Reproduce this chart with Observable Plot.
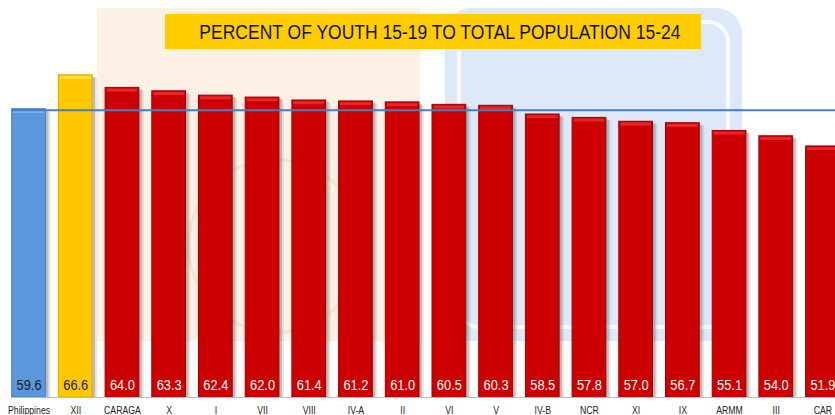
<!DOCTYPE html>
<html>
<head>
<meta charset="utf-8">
<script src="https://cdn.jsdelivr.net/npm/d3@7"></script>
<script src="https://cdn.jsdelivr.net/npm/@observablehq/plot@0.6"></script>
<style>
  body { margin: 0; background: #fff; overflow: hidden; }
  #wrap { position: relative; width: 835px; height: 415px; overflow: hidden;
          font-family: "Liberation Sans", Arial, sans-serif; }
  .bg { position: absolute; }
  #peach { left: 97px; top: 8px; width: 323px; height: 333px; background: #fdf0e4; }
  #peach .seal { position: absolute; left: 90px; top: 150px; width: 170px; height: 170px; border-radius: 50%;
                 border: 3px solid rgba(230,205,170,0.35); }
  #blue { left: 445px; top: 8px; width: 297px; height: 333px; background: #dde8f8; border-radius: 26px; }
  #blue .inner { position: absolute; left: 12px; top: 12px; right: 12px; bottom: 12px;
                 border: 4px solid rgba(255,255,255,0.75); border-radius: 22px; }
  #chart { position: absolute; left: 0; top: 0; }
  #title { position: absolute; left: 165px; top: 14px; width: 536px; height: 35px; background: #ffcc00;
           color: #111; font-size: 20px; line-height: 36px; text-align: center; white-space: nowrap; }
  #title span { display: inline-block; transform: scaleX(0.875); transform-origin: center; }
</style>
</head>
<body>
<div id="wrap">
  <div id="peach" class="bg"><div class="seal"></div></div>
  <div id="blue" class="bg"><div class="inner"></div></div>
  <div id="chart"></div>
  <div id="title"><span></span></div>
</div>
<script>
const chartTitle = "PERCENT OF YOUTH 15-19 TO TOTAL POPULATION 15-24";
const regions = ["Philippines", "XII", "CARAGA", "X", "I", "VII", "VIII", "IV-A", "II", "VI", "V", "IV-B", "NCR", "XI", "IX", "ARMM", "III", "CAR"];
const values  = [59.6, 66.6, 64.0, 63.3, 62.4, 62.0, 61.4, 61.2, 61.0, 60.5, 60.3, 58.5, 57.8, 57.0, 56.7, 55.1, 54.0, 51.9];
const groups  = ["national", "highlight", "region", "region", "region", "region", "region", "region", "region",
                 "region", "region", "region", "region", "region", "region", "region", "region", "region"];

const fills   = { national: "#5b97dc", highlight: "#ffc800", region: "#cc0000" };
const strokes = { national: "#4a7fc0", highlight: "#e0a800", region: "#9e0000" };
const bevels  = { national: "#84b3ea", highlight: "#ffdc3c", region: "#e82626" };
const labelColors = { national: "#1a1a1a", highlight: "#1a1a1a", region: "#ffffff" };

const data = regions.map((r, i) => ({ region: r, value: values[i], group: groups[i] }));

document.querySelector("#title span").textContent = chartTitle;

const font = '"Liberation Sans", Arial, sans-serif';

const chart = Plot.plot({
  width: 835,
  height: 415,
  marginTop: 10,
  marginBottom: 18,
  marginLeft: 12,
  marginRight: 0,
  style: { background: "transparent", fontFamily: font, overflow: "visible" },
  x: { domain: regions, range: [5.2, 845.8], paddingInner: 0.278, paddingOuter: 0.139, round: false, label: null },
  y: { domain: [0, 80], axis: null },
  color: { type: "identity" },
  marks: [
    Plot.barY(data, { x: "region", y: "value", fill: "#7a7a7a", fillOpacity: 0.18, dx: 5, insetTop: 3 }),
    Plot.barY(data, { x: "region", y: "value", fill: "#6a6a6a", fillOpacity: 0.35, dx: 3, insetTop: 2 }),
    Plot.barY(data, { x: "region", y: "value", fill: d => fills[d.group], stroke: d => strokes[d.group], strokeWidth: 1 }),
    Plot.tickY(data, { x: "region", y: "value", stroke: d => bevels[d.group], strokeWidth: 3, dy: 2.2, insetLeft: 1.5, insetRight: 1.5 }),
    Plot.ruleY([0], { stroke: "#bdbdbd", strokeWidth: 1 }),
    Plot.ruleY([values[0]], { stroke: "#4a7ebb", strokeWidth: 2, dy: 1 }),
    Plot.text(data, { x: "region", y: 0, text: d => d.value.toFixed(1), fill: d => labelColors[d.group],
                      fontSize: 15.5, lineAnchor: "bottom", dy: -8 }),
    Plot.axisX({ tickSize: 0, tickPadding: 9, fontSize: 10.5, fill: "#222", label: null })
  ]
});

// condense all chart texts horizontally around their anchors (narrow typeface look)
chart.querySelectorAll("text").forEach(el => {
  const t = el.getAttribute("transform") || "";
  const x = +el.getAttribute("x") || 0;
  const y = +el.getAttribute("y") || 0;
  el.setAttribute("transform", `${t} translate(${x},${y}) scale(0.83,1) translate(${-x},${-y})`);
});

document.getElementById("chart").appendChild(chart);
</script>
</body>
</html>
